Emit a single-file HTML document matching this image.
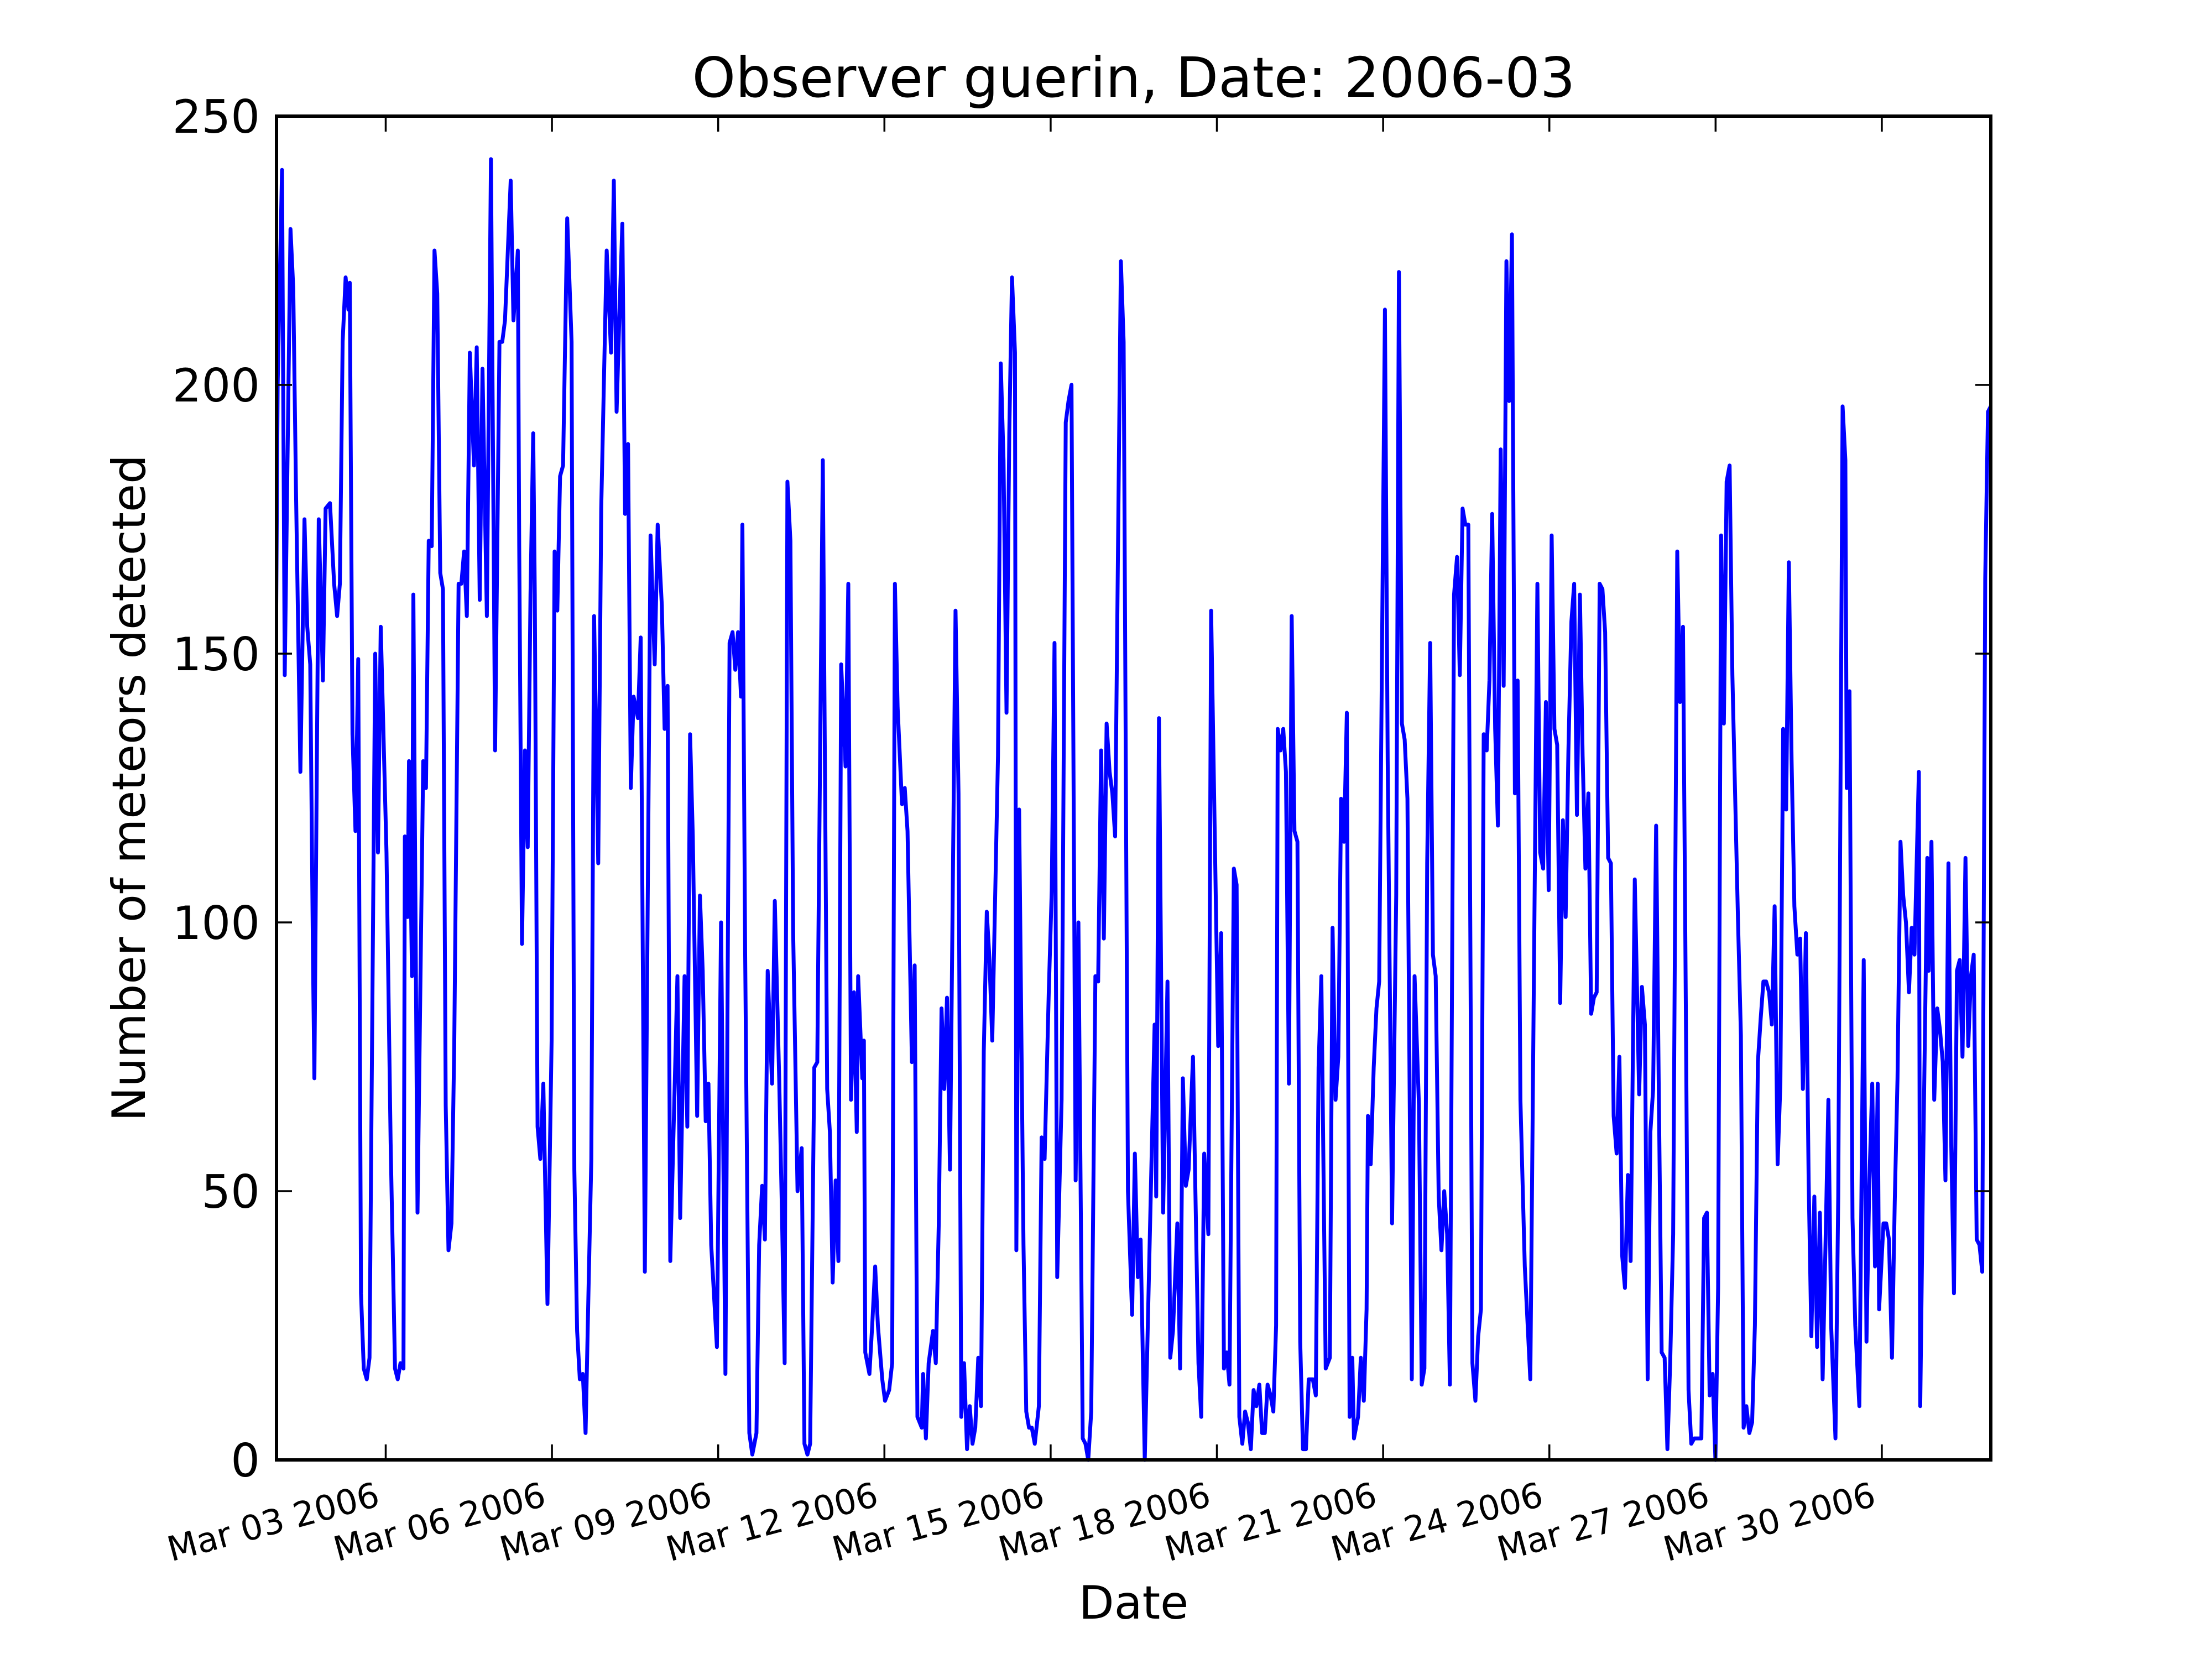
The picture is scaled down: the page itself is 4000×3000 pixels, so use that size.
<!DOCTYPE html>
<html><head><meta charset="utf-8"><style>
html,body{margin:0;padding:0;background:#fff;}
svg{display:block;font-family:"DejaVu Sans","Liberation Sans",sans-serif;}
</style></head><body>
<svg id="chart" width="4000" height="3000" viewBox="0 0 4000 3000" xmlns="http://www.w3.org/2000/svg">
<rect x="0" y="0" width="4000" height="3000" fill="#fff"/>
<text x="2050" y="175" font-size="100" text-anchor="middle">Observer guerin, Date: 2006-03</text>
<text x="2050" y="2927" font-size="83" text-anchor="middle">Date</text>
<text x="0" y="0" font-size="83" text-anchor="middle" transform="translate(262,1425) rotate(-90)">Number of meteors detected</text>
<g id="plot"></g>
</svg>
<script>
const hours = [0,1.2,3.1,4.3,6.8,8.0,9.2,11.1,12.9,14.1,15.4,16.6,17.2,19.1,20.9,22.1,24.0,25.8,27.1,28.3,29.5,30.8,32.0,32.6,33.8,35.1,36.3,37.5,38.7,40.0,41.2,43.7,44.9,46.1,48.6,50.4,52.3,53.5,54.7,56.0,56.6,57.8,58.4,59.7,60.3,62.1,64.6,65.8,67.0,68.3,69.5,70.7,72.0,73.2,74.4,75.6,76.9,78.1,80.0,81.2,82.4,83.6,84.9,86.7,87.9,89.2,90.4,92.3,94.1,95.9,97.8,99.0,100.2,102.7,103.9,105.8,106.4,107.6,108.9,110.1,111.3,112.5,113.2,114.4,115.6,116.9,118.7,120.5,121.8,123.0,124.2,125.5,127.3,129.2,130.4,131.6,132.8,134.1,135.3,136.5,137.8,139.0,140.8,142.1,144.5,146.4,147.6,148.8,150.1,151.3,152.5,153.8,155.0,156.2,158.1,159.3,161.1,163.6,165.4,166.7,168.5,169.7,171.0,172.2,175.3,176.5,178.4,179.6,180.8,182.0,183.9,185.1,186.3,187.6,188.8,190.0,192.5,194.3,196.2,198.0,199.3,200.5,201.7,203.0,203.6,204.8,206.6,207.9,209.7,210.9,212.2,213.4,214.6,216.5,217.7,219.6,220.8,222.0,223.2,224.5,225.7,227.6,229.4,230.6,231.9,233.1,234.9,236.2,238.6,240.5,241.7,242.9,244.2,245.4,246.6,248.5,249.7,250.9,252.2,253.4,254.0,255.8,256.5,257.1,258.9,260.1,261.4,262.6,264.5,265.7,267.5,268.8,270.0,271.2,273.1,274.3,275.5,277.4,278.6,279.8,281.7,282.3,283.5,284.7,286.6,287.8,289.1,290.3,291.5,292.7,294.0,296.4,297.7,298.9,300.1,301.4,302.6,303.8,305.0,306.3,307.5,308.7,310.0,311.2,312.4,314.9,316.1,317.3,318.6,319.8,321.0,322.3,322.9,324.1,326.0,327.2,328.4,329.6,330.9,332.7,333.9,335.2,337.0,338.3,339.5,340.7,342.6,344.4,345.6,346.9,348.7,349.9,351.8,353.0,354.2,355.5,357.3,358.5,359.8,361.0,362.2,363.5,364.7,365.9,368.4,369.6,371.5,373.3,374.5,375.8,377.0,378.8,383.1,383.8,385.0,386.8,388.7,389.9,391.1,393.0,394.2,395.4,396.7,397.9,399.8,402.2,403.4,404.7,406.5,407.7,409.6,410.8,412.1,413.3,414.5,415.7,417.6,418.8,420.0,421.3,422.5,423.7,425.0,426.2,427.4,428.7,429.9,431.1,432.3,433.6,434.8,436.0,436.7,437.9,439.1,440.3,441.6,442.8,444.0,445.3,446.5,447.7,449.0,450.2,452.0,453.3,454.5,455.7,457.6,459.4,460.6,461.9,463.1,464.3,465.6,466.8,468.0,469.2,469.9,471.7,472.9,474.2,475.4,476.0,477.2,478.5,479.7,480.9,483.4,484.6,486.5,488.3,489.5,490.8,492.0,493.2,495.1,496.3,498.2,499.4,500.6,501.8,503.1,504.3,505.5,506.8,508.0,509.2,510.5,511.7,513.5,514.8,516.0,517.2,518.4,519.7,521.5,522.8,524.0,525.2,526.4,527.7,528.9,530.1,531.4,532.6,533.8,535.1,536.3,537.5,538.7,540.0,541.2,542.4,544.3,546.7,549.8,551.0,552.3,553.5,554.7,556.0,557.2,558.4,559.7,560.9,562.1,563.3,564.6,565.8,567.0,568.3,569.5,570.7,572.0,573.2,574.4,575.6,576.9,578.1,579.3,580.6,581.8,583.0,584.3,585.5,586.7,587.9,589.2,590.4,592.2,594.1,595.3,596.6,597.8,599.0,600.2,601.5,602.7,603.9,605.2,606.4,607.6,608.9,610.7,611.9,613.2,614.4,615.6,616.8,618.1,619.9,621.2,622.4,623.6,624.8,626.1,627.3,628.5,629.8,631.0,632.2,633.5,634.7,637.1,638.4,639.6,640.8,642.1,643.3,644.5,645.8,647.0,648.2,649.4,650.7,651.9,653.1,654.4,655.6,656.8,658.1,659.3,660.5,661.7,663.0,664.2,665.4,666.7,667.9,669.1,670.4,671.6,672.8,674.0,675.3,676.5,677.7,679.6,680.8,682.7,683.9,684.5,685.7,687.0,688.2,690.0,691.9,693.1,694.3,695.6,696.8,698.0,698.6,700.5,701.7,702.9,704.2,705.4,706.6,707.9,709.1,710.3,711.6,712.8,714.0,715.9,716.5,717.7,719.6,720.2,721.4,722.6,723.9,725.1,726.3,727.5,728.8,730.0,731.2,732.5,733.7,734.9,736.2,737.4,738.6,739.8,741.1,742.3,743.5,744.8,746.0,747.2].map(h => h * 0.9946);
const counts = [121,200,240,146,229,218,180,128,175,155,148,93,71,175,145,177,178,163,157,163,208,220,214,219,135,117,149,31,17,15,19,150,113,155,113,59,17,15,18,17,116,101,130,90,161,46,130,125,171,170,225,217,165,162,66,39,44,77,163,163,169,157,206,185,207,160,203,157,242,132,208,208,212,238,212,225,170,96,132,114,161,191,161,62,56,70,29,78,169,158,183,185,231,208,54,24,15,16,5,30,56,157,111,177,225,206,238,195,214,230,176,189,125,142,138,153,35,172,148,174,159,136,144,37,90,45,90,62,135,116,64,105,91,63,70,40,21,100,16,152,154,147,154,142,174,94,5,1,5,40,51,41,91,70,104,71,46,18,182,171,98,50,58,3,1,3,73,74,186,69,61,33,52,37,148,129,163,67,87,61,90,71,78,20,16,25,36,25,15,11,13,18,163,140,122,125,117,74,92,8,6,16,4,18,24,18,44,84,69,86,54,158,124,8,18,2,10,3,6,19,10,76,102,93,78,131,204,186,139,191,220,206,39,121,40,9,6,6,3,10,60,56,87,106,152,34,67,193,197,200,52,100,4,3,0,9,90,89,132,97,137,128,124,116,223,208,50,27,57,34,41,0,81,49,138,46,89,19,24,44,17,71,51,54,75,18,8,57,42,158,108,77,98,17,20,14,110,107,8,3,9,7,2,13,10,14,5,5,14,12,9,25,136,132,136,128,70,157,117,115,22,2,2,15,15,12,73,90,17,19,99,67,75,123,115,139,8,19,4,8,19,11,28,64,55,73,84,89,214,130,44,105,221,137,134,123,15,90,66,14,17,111,152,94,90,49,39,50,42,14,161,168,146,177,174,174,18,11,23,28,135,132,145,176,136,118,188,144,223,197,228,124,145,67,36,15,163,113,110,141,106,172,136,133,85,119,101,132,156,163,120,161,131,110,124,83,86,87,163,162,154,112,111,64,57,75,38,32,53,37,108,68,88,81,15,61,69,118,67,20,19,2,18,42,169,141,155,86,13,3,4,4,4,45,46,12,16,0,32,172,137,182,185,146,101,79,6,10,5,7,25,74,82,89,89,87,81,103,55,70,136,121,167,130,103,94,97,69,98,52,23,49,21,46,15,41,67,25,4,49,196,186,125,143,45,25,10,93,22,51,70,36,70,28,44,44,41,19,48,71,115,105,100,87,99,94,128,10,53,112,91,115,67,84,80,74,52,111,59,31,91,93,75,112,77,90,94,41,40,35,164,195,196];
const yTicks = [0,50,100,150,200,250];
const xTickDays = [3,6,9,12,15,18,21,24,27,30];
const xTickLabels = ["Mar 03 2006","Mar 06 2006","Mar 09 2006","Mar 12 2006","Mar 15 2006","Mar 18 2006","Mar 21 2006","Mar 24 2006","Mar 27 2006","Mar 30 2006"];
const xDomain = [0.7, 743.2];
const yDomain = [0, 250];

const NS = "http://www.w3.org/2000/svg";
const L = 500, R = 3600, T = 210, B = 2640;
function xs(h){ return L + (h - xDomain[0]) / (xDomain[1] - xDomain[0]) * (R - L); }
function ys(v){ return B - (v - yDomain[0]) / (yDomain[1] - yDomain[0]) * (B - T); }
const g = document.getElementById('plot');
function mk(tag, attrs){ const e = document.createElementNS(NS, tag); for (const k in attrs) e.setAttribute(k, attrs[k]); g.appendChild(e); return e; }

const defs = mk('defs', {});
const cp = document.createElementNS(NS, 'clipPath'); cp.setAttribute('id', 'clip'); defs.appendChild(cp);
const cr = document.createElementNS(NS, 'rect'); cr.setAttribute('x', L); cr.setAttribute('y', T - 10); cr.setAttribute('width', R - L); cr.setAttribute('height', B - T + 20); cp.appendChild(cr);

const n = Math.min(hours.length, counts.length);
let d = '';
for (let i = 0; i < n; i++) d += (i ? 'L' : 'M') + xs(hours[i]).toFixed(1) + ',' + ys(counts[i]).toFixed(1);
const line = mk('path', {d: d, fill: 'none', stroke: '#0000ff', 'stroke-width': 7, 'stroke-linejoin': 'round', 'clip-path': 'url(#clip)'});



yTicks.forEach(v => {
  const y = ys(v);
  const t1 = mk('line', {x1: L, x2: L + 28, y1: y, y2: y, stroke: '#000', 'stroke-width': 3.5});
  
  
  const t2 = mk('line', {x1: R, x2: R - 28, y1: y, y2: y, stroke: '#000', 'stroke-width': 3.5});
  
  
  const tx = mk('text', {x: L - 30, y: y + 30, 'font-size': 83, 'text-anchor': 'end'});
  tx.textContent = v;
  
  
});

xTickDays.forEach((day, i) => {
  const x = xs((day - 1) * 24);
  const t1 = mk('line', {x1: x, x2: x, y1: B, y2: B - 28, stroke: '#000', 'stroke-width': 3.5});
  
  
  const t2 = mk('line', {x1: x, x2: x, y1: T, y2: T + 28, stroke: '#000', 'stroke-width': 3.5});
  
  
  const ax = x - 8, ay = B + 82;
  const tx = mk('text', {x: ax, y: ay, 'font-size': 62, 'text-anchor': 'end', transform: 'rotate(-15 ' + ax + ' ' + ay + ')'});
  tx.textContent = xTickLabels[i];
  
  
});

const frame = mk('rect', {x: L, y: T, width: R - L, height: B - T, fill: 'none', stroke: '#000', 'stroke-width': 6});


</script>
</body></html>
